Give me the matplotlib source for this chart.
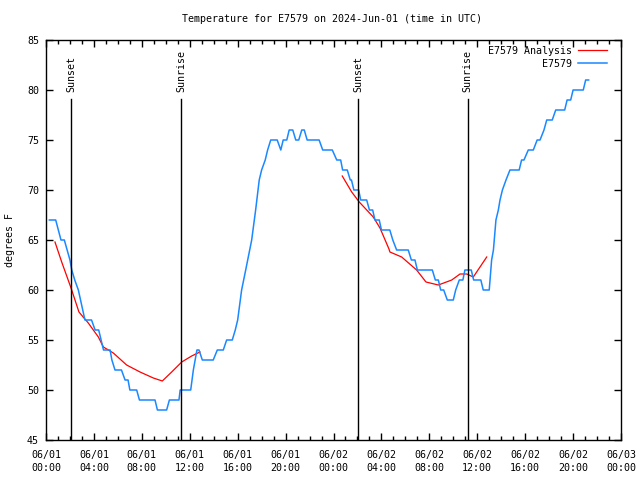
import matplotlib
matplotlib.use("Agg")
import matplotlib.pyplot as plt
from matplotlib.ticker import MultipleLocator, FuncFormatter

# hours since 2024-06-01 00:00 UTC
obs_hours = [0.28, 0.81, 1.25, 1.53, 2.0, 2.15, 2.4, 2.7, 3.25, 3.8, 4.1, 4.4, 4.8, 5.35,
             5.5, 5.76, 6.3, 6.6, 6.85, 7.0, 7.57, 7.8, 9.1, 9.3, 10.07, 10.3, 11.1, 11.2,
             12.08, 12.3, 12.6, 12.77, 13.05, 13.96, 14.3, 14.8, 15.08, 15.55, 15.8, 16.0,
             16.33, 16.67, 17.17, 17.5, 17.8, 18.0, 18.3, 18.5, 18.76, 19.3, 19.6, 19.8,
             20.1, 20.3, 20.6, 20.85, 21.1, 21.35, 21.56, 21.8, 22.8, 23.1, 23.9, 24.27,
             24.6, 24.76, 25.15, 25.4, 25.5, 25.7, 26.1, 26.27, 26.77, 27.0, 27.27, 27.46,
             27.82, 28.0, 28.7, 28.95, 29.27, 30.24, 30.5, 30.8, 31.0, 32.25, 32.5, 32.75,
             32.95, 33.2, 33.5, 34.0, 34.2, 34.5, 34.8, 34.97, 35.5, 35.7, 36.3, 36.5, 37.0,
             37.2, 37.35, 37.56, 37.76, 37.9, 38.1, 38.4, 38.73, 39.5, 39.7, 39.9, 40.26,
             40.68, 41.0, 41.24, 41.57, 41.8, 42.26, 42.55, 43.3, 43.5, 43.8, 44.0, 44.85,
             45.05, 45.3]
obs_temps = [67, 67, 65, 65, 63, 62, 61, 60, 57, 57, 56, 56, 54, 54,
             53, 52, 52, 51, 51, 50, 50, 49, 49, 48, 48, 49, 49, 50,
             50, 52, 54, 54, 53, 53, 54, 54, 55, 55, 56, 57,
             60, 62, 65, 68, 71, 72, 73, 74, 75, 75, 74, 75,
             75, 76, 76, 75, 75, 76, 76, 75, 75, 74, 74, 73,
             73, 72, 72, 71, 71, 70, 70, 69, 69, 68, 68, 67,
             67, 66, 66, 65, 64, 64, 63, 63, 62, 62, 61, 61,
             60, 60, 59, 59, 60, 61, 61, 62, 62, 61, 61, 60, 60,
             63, 64, 67, 68, 69, 70, 71, 72, 72, 73, 73, 74,
             74, 75, 75, 76, 77, 77, 78, 78, 79, 79, 80, 80,
             81, 81]

ana1_hours = [0.75, 1.31, 2.09, 2.75, 3.53, 4.37, 4.79, 5.62, 6.73, 7.85, 8.96, 9.71,
              10.49, 11.33, 12.16, 12.85]
ana1_temps = [64.8, 62.8, 60.2, 57.8, 56.7, 55.3, 54.3, 53.7, 52.5, 51.8, 51.2, 50.9,
              51.8, 52.8, 53.4, 53.8]
ana2_hours = [24.73, 25.52, 26.15, 27.32, 27.88, 28.63, 28.71, 29.69, 30.94, 31.72,
              32.75, 33.87, 34.56, 35.12, 35.67, 36.79]
ana2_temps = [71.4, 69.8, 68.8, 67.3, 66.2, 64.1, 63.8, 63.3, 62.0, 60.8,
              60.5, 61.0, 61.6, 61.6, 61.3, 63.3]

sun_hours = [2.09, 11.27, 26.04, 35.2]
sun_labels = ["Sunset", "Sunrise", "Sunset", "Sunrise"]

plt.rcParams['font.family'] = 'DejaVu Sans Mono'
plt.rcParams['font.size'] = 7.2

fig = plt.figure(figsize=(6.4, 4.8), dpi=100)
ax = fig.add_axes([46 / 640, 1 - 440 / 480, 575 / 640, 400 / 480])

ax.plot(ana1_hours, ana1_temps, color='#ff0000', lw=0.9, label='E7579 Analysis')
ax.plot(ana2_hours, ana2_temps, color='#ff0000', lw=0.9)
ax.plot(obs_hours, obs_temps, color='#1a88ff', lw=1.1, label='E7579')

for h, lab in zip(sun_hours, sun_labels):
    ax.plot([h, h], [45, 79.1], color='black', lw=1.0)
    ax.text(h, 79.8, lab, rotation=90, ha='center', va='bottom')

ax.set_xlim(0, 48)
ax.set_ylim(45, 85)
ax.xaxis.set_major_locator(MultipleLocator(4))
ax.xaxis.set_minor_locator(MultipleLocator(1))
ax.yaxis.set_major_locator(MultipleLocator(5))


def fmt_time(h, pos):
    day = 1 + int(h // 24)
    return "06/%02d\n%02d:00" % (day, int(h % 24))


ax.xaxis.set_major_formatter(FuncFormatter(fmt_time))
for lbl in ax.get_xticklabels():
    lbl.set_linespacing(1.35)
ax.tick_params(which='both', direction='in', top=True, right=True, width=1.0)
ax.tick_params(which='major', length=5)
ax.tick_params(which='minor', length=3)
ax.tick_params(axis='x', pad=7)
ax.tick_params(axis='y', pad=5)
for s in ax.spines.values():
    s.set_linewidth(1.0)

ax.set_ylabel('degrees F', labelpad=9)
fig.text(332 / 640, 1 - 19 / 480, 'Temperature for E7579 on 2024-Jun-01 (time in UTC)',
         ha='center', va='center')

ax.legend(loc='upper right', frameon=False, markerfirst=False, handlelength=2.9,
          handletextpad=0.6, borderaxespad=0.2, labelspacing=0.3,
          bbox_to_anchor=(1.0 - 8 / 575, 1.0))

fig.savefig('out.png', dpi=100)
